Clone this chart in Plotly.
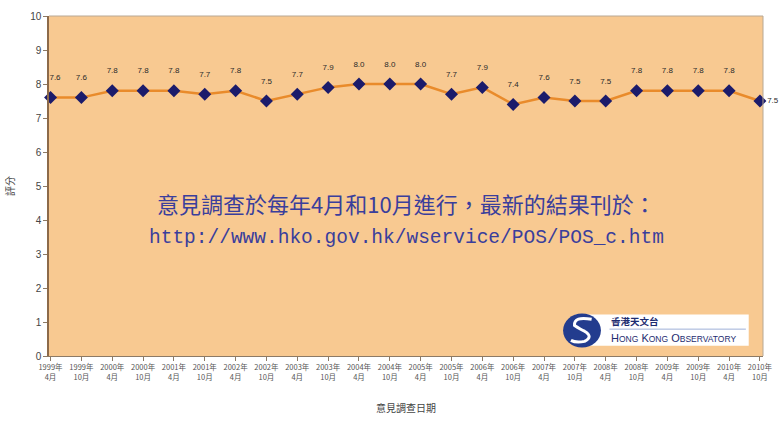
import plotly.graph_objects as go

# Survey rounds (April and October each year) and the mean satisfaction score
years = ["1999年", "1999年", "2000年", "2000年", "2001年", "2001年", "2002年", "2002年",
         "2003年", "2003年", "2004年", "2004年", "2005年", "2005年", "2006年", "2006年",
         "2007年", "2007年", "2008年", "2008年", "2009年", "2009年", "2010年", "2010年"]
months = ["4月", "10月"] * 12
scores = [7.6, 7.6, 7.8, 7.8, 7.8, 7.7, 7.8, 7.5, 7.7, 7.9, 8.0, 8.0,
          8.0, 7.7, 7.9, 7.4, 7.6, 7.5, 7.5, 7.8, 7.8, 7.8, 7.8, 7.5]
y_ticks = list(range(0, 11))

idx = list(range(len(scores)))
tick_text = [f"{y}<br>{m}" for y, m in zip(years, months)]

LINE_ORANGE = "#E98B2B"
NAVY = "#1B1B6B"
PLOT_BG = "#F8C991"
TEXT_BLUE = "#3A3E9C"

fig = go.Figure()

# score line with diamond markers
fig.add_trace(go.Scatter(
    x=idx, y=scores, mode="lines+markers",
    line=dict(color=LINE_ORANGE, width=2.5),
    marker=dict(symbol="diamond", size=10, color=NAVY),
    hoverinfo="skip", showlegend=False, cliponaxis=False,
))

# value labels above each point; the first is padded so it clears the y axis,
# the last one sits to the right of its marker
labels = [f"{v:.1f}" for v in scores]
labels[0] = "\u2007\u2007" + labels[0]
label_pos = ["top center"] * (len(scores) - 1) + ["middle right"]
label_size = [23] * (len(scores) - 1) + [10]
fig.add_trace(go.Scatter(
    x=idx, y=scores, mode="markers+text",
    text=labels, textposition=label_pos,
    textfont=dict(size=8, color="#2A2A2A", family="Liberation Sans, Arial"),
    marker=dict(size=label_size, opacity=0),
    hoverinfo="skip", showlegend=False, cliponaxis=False,
))

fig.update_layout(
    width=782, height=421,
    margin=dict(l=49, r=19, t=16, b=65),
    paper_bgcolor="white",
    plot_bgcolor=PLOT_BG,
    font=dict(family="Noto Sans CJK TC, Liberation Sans", color="#444444"),
    xaxis=dict(
        range=[-0.05, 23.1], automargin=False,
        tickmode="array", tickvals=idx, ticktext=tick_text,
        tickfont=dict(size=7.5, color="#555555", family="Noto Sans CJK TC"),
        ticks="outside", ticklen=4, tickcolor="#8C7A66",
        showline=True, linecolor="#8C7A66", linewidth=1,
        showgrid=False, zeroline=False,
        title=dict(text="意見調查日期", font=dict(size=10, color="#444444"), standoff=24),
    ),
    yaxis=dict(
        range=[0, 10], automargin=False,
        tickmode="array", tickvals=y_ticks,
        tickfont=dict(size=10, color="#444444", family="Liberation Sans, Arial"),
        ticks="outside", ticklen=4, tickcolor="#8C7A66",
        showline=True, linecolor="#8C6A4A", linewidth=1.5,
        showgrid=False, zeroline=False,
        title=dict(text="評分", font=dict(size=10, color="#444444"), standoff=14),
    ),
)

# thin frame on the top and right of the plotting area
fig.add_shape(type="line", xref="paper", yref="paper", x0=0, x1=1, y0=1, y1=1,
              line=dict(color="#B8A894", width=1))
fig.add_shape(type="line", xref="paper", yref="paper", x0=1, x1=1, y0=0, y1=1,
              line=dict(color="#B8A894", width=1))

# survey note
fig.add_annotation(
    xref="paper", yref="paper", x=0.5, y=0.45, yanchor="middle",
    text="意見調查於每年4月和10月進行，最新的結果刊於：",
    showarrow=False, font=dict(size=22, color=TEXT_BLUE, family="Noto Sans CJK TC"),
)
fig.add_annotation(
    xref="paper", yref="paper", x=0.5, y=0.347, yanchor="middle",
    text="http://www.hko.gov.hk/wservice/POS/POS_c.htm",
    showarrow=False, font=dict(size=19.5, color=TEXT_BLUE, family="Liberation Mono"),
)

# Hong Kong Observatory badge (bottom right)
fig.add_shape(type="rect", xref="paper", yref="paper",
              x0=0.737, x1=0.98, y0=0.03, y1=0.122,
              fillcolor="white", line=dict(width=0))
fig.add_shape(type="line", xref="paper", yref="paper",
              x0=0.785, x1=0.976, y0=0.079, y1=0.079,
              line=dict(color="#9FB0D8", width=1))
fig.add_shape(type="circle", xref="paper", yref="paper",
              x0=0.72, x1=0.773, y0=0.025, y1=0.125,
              fillcolor="#233C8E", line=dict(width=0))
fig.add_shape(type="path", xref="paper", yref="paper",
              path="M 0.760,0.108 Q 0.735,0.118 0.736,0.09 Q 0.745,0.078 0.750,0.073 "
                   "Q 0.763,0.057 0.750,0.043 Q 0.738,0.038 0.731,0.046",
              line=dict(color="white", width=3))
fig.add_annotation(xref="paper", yref="paper", x=0.785, y=0.103,
                   xanchor="left", yanchor="middle",
                   text="<b>香港天文台</b>", showarrow=False,
                   font=dict(size=9.5, color="#1E2C70", family="Noto Sans CJK TC"))
fig.add_annotation(xref="paper", yref="paper", x=0.784, y=0.053,
                   xanchor="left", yanchor="middle",
                   text="H<span style='font-size:8.5px'>ONG</span> K<span style='font-size:8.5px'>ONG</span> "
                        "O<span style='font-size:8.5px'>BSERVATORY</span>",
                   showarrow=False,
                   font=dict(size=11, color="#1E2C70", family="Liberation Sans"))

fig.write_html("out.html")
